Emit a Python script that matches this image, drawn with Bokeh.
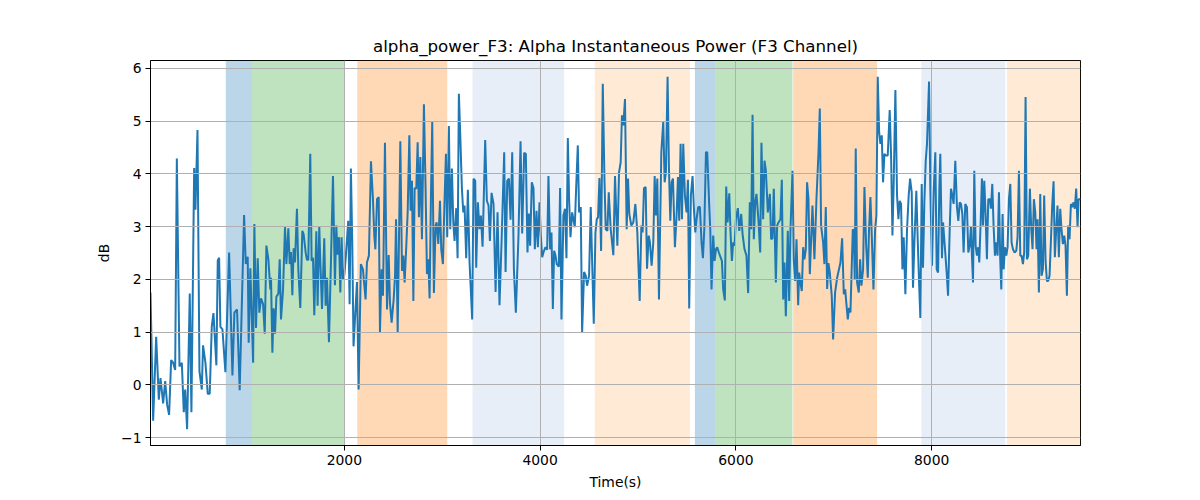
from bokeh.plotting import figure
from bokeh.models import Range1d, FixedTicker, BoxAnnotation
from bokeh.embed import file_html
from bokeh.resources import INLINE

# (time in s, power in dB), segment by segment
samples_a = [(20,1.75),(47,-0.68),(78,0.91),(105,-0.28),(122,0.13),(149,-0.35),(170,0.07),(190,-0.38),(210,-0.57),(231,0.47),(251,0.42),(272,0.28),(289,4.29),(316,0.35),(340,0.42),(360,-0.52),(374,-0.09),(394,-0.84),(421,1.73),(438,-0.52),(466,4.11),(479,3.32),(500,4.83),(520,0.26),(544,-0.09),(557,0.75),(581,0.42),(605,-0.17),(625,-0.17),(646,1.11),(663,1.36),(693,0.37),(707,2.36),(721,2.41),(734,1.10),(755,1.05),(785,0.24),(823,2.51),(857,0.18),(877,1.37),(904,1.43),(931,-0.10),(976,3.22),(993,2.29),(1013,2.43),(1023,0.80),(1040,2.21),(1068,0.42),(1081,3.05),(1098,1.08),(1115,2.40),(1132,1.37),(1149,1.64),(1170,1.53),(1187,0.97),(1204,2.64),(1224,2.38),(1244,1.81),(1251,2.03),(1265,0.61),(1278,1.45),(1292,0.97),(1306,1.67),(1326,1.73),(1340,2.38),(1353,1.24),(1374,1.81),(1394,2.99),(1408,2.29),(1428,2.97),(1442,2.29),(1455,2.52),(1469,1.70),(1482,2.59),(1496,2.32),(1516,3.34),(1530,2.19),(1550,1.46),(1571,2.92),(1584,2.86),(1605,2.51),(1618,2.37),(1632,2.37),(1652,4.38),(1666,2.35),(1680,2.41),(1693,1.32),(1714,2.91),(1727,1.50),(1744,3.00),(1754,2.38),(1772,1.44),(1795,2.78),(1809,1.50),(1823,2.03),(1843,0.81),(1863,2.32),(1884,3.96),(1904,1.89),(1918,3.02),(1931,2.47),(1945,2.80),(1959,1.75),(1972,2.80),(1986,2.00),(2000,2.08),(2013,2.38),(2040,3.11),(2054,1.53),(2067,4.10),(2081,2.70),(2094,0.73),(2129,1.95),(2146,-0.09),(2169,2.29),(2190,2.19),(2217,1.62),(2231,2.32),(2251,2.45),(2272,4.24),(2292,3.53),(2306,2.83)]
samples_b = [(2317,2.57),(2334,3.52),(2351,3.56),(2364,1.00),(2381,2.19),(2395,1.69),(2415,4.59),(2436,1.43),(2453,2.46),(2466,1.56),(2483,1.18),(2504,1.62),(2518,2.07),(2528,3.14),(2545,1.00),(2572,4.62),(2589,2.16),(2603,2.45),(2616,1.94),(2633,2.64),(2647,3.27),(2664,4.73),(2677,3.30),(2691,3.87),(2705,1.59),(2718,3.73),(2735,3.72),(2749,4.60),(2762,3.18),(2776,4.32),(2793,2.76),(2813,5.32),(2830,3.72),(2844,2.10),(2858,2.38),(2871,1.64),(2885,3.59),(2898,5.00),(2915,1.74),(2932,3.02),(2943,3.08),(2960,2.67),(2977,3.49),(2990,2.57),(3007,2.29),(3024,3.52),(3038,4.38),(3051,2.80),(3068,4.91),(3082,2.95),(3099,4.10),(3113,3.08),(3126,2.73),(3143,3.35),(3157,2.40),(3170,5.52),(3184,4.74),(3201,3.72),(3215,3.27),(3228,3.40),(3245,2.40),(3262,3.70),(3279,2.32),(3306,1.24),(3320,3.91),(3337,3.87),(3347,2.22),(3364,3.46),(3381,2.95),(3395,3.21),(3412,2.62),(3439,4.64),(3456,3.49),(3473,3.40),(3487,2.73),(3504,3.64),(3524,3.43),(3545,1.76),(3565,3.27),(3585,1.51),(3606,2.70),(3633,4.41),(3647,2.14),(3664,3.87),(3681,3.91),(3698,3.13),(3715,4.41),(3732,2.19),(3752,1.37),(3779,2.83),(3800,4.62),(3817,2.87),(3837,4.40),(3854,4.38),(3871,2.51),(3885,3.25),(3898,2.64),(3915,3.84),(3932,3.73),(3946,2.57),(3963,3.30),(3977,2.61),(3994,3.46),(4007,2.83),(4021,2.42),(4034,2.51),(4055,2.61),(4072,2.56),(4085,3.96),(4102,2.57),(4116,2.89),(4130,1.44),(4143,2.54),(4157,2.45),(4170,2.29),(4191,2.24),(4204,3.73),(4218,1.24),(4238,3.21),(4255,3.34),(4269,2.40),(4283,4.68),(4296,3.52),(4310,2.80),(4327,3.27),(4340,3.14),(4354,2.99),(4368,3.73),(4385,4.54),(4398,3.27),(4415,3.37),(4429,0.99),(4449,2.14),(4466,2.07),(4480,1.88),(4500,2.07),(4517,3.37),(4548,1.16),(4565,2.89),(4579,3.14),(4592,3.18),(4606,3.92),(4623,2.54),(4640,5.71),(4657,3.91),(4670,2.95),(4687,2.92),(4701,3.65)]
samples_c = [(4721,2.95),(4748,2.46),(4765,3.96),(4789,2.64),(4806,4.03),(4823,4.22),(4836,5.11),(4850,4.92),(4867,5.42),(4884,2.95),(4898,3.91),(4911,3.24),(4932,3.02),(4952,3.08),(4973,3.43),(4993,2.89),(5017,1.59),(5034,3.02),(5047,2.89),(5061,3.73),(5078,3.75),(5092,2.20),(5109,2.83),(5122,2.70),(5139,2.26),(5156,2.70),(5170,3.96),(5183,3.21),(5197,3.91),(5214,1.62),(5238,4.41),(5258,4.99),(5272,3.84),(5285,4.03),(5302,5.84),(5316,4.10),(5330,3.11),(5343,3.84),(5357,3.91),(5377,2.61),(5394,3.21),(5408,3.94),(5421,3.11),(5435,4.57),(5449,3.14),(5462,4.57),(5479,3.59),(5496,3.27),(5510,3.89),(5523,1.45),(5540,3.59),(5557,3.96),(5571,3.34),(5585,2.89),(5598,3.14),(5615,3.37),(5632,3.37),(5649,2.70),(5663,2.40),(5677,2.95),(5694,4.41),(5707,4.41),(5728,3.37),(5738,2.95),(5751,1.81),(5768,2.83),(5782,2.35),(5796,2.57),(5809,2.61),(5826,2.51),(5843,2.42),(5857,2.35),(5870,1.81),(5887,1.60),(5901,3.76),(5915,3.08),(5932,3.63),(5945,2.89),(5959,2.35),(5972,2.70),(5986,2.64),(6000,3.14),(6020,3.35),(6034,2.92),(6054,3.24),(6068,2.86),(6088,2.57),(6108,2.45),(6125,1.74),(6142,3.46),(6156,2.95),(6170,5.12),(6183,2.76),(6197,3.46),(6210,3.62),(6231,3.11),(6248,2.51),(6261,4.59),(6278,3.14),(6292,4.25),(6306,4.06),(6326,3.27),(6347,3.62),(6360,2.76),(6374,2.78),(6387,3.72),(6408,1.94),(6421,3.02),(6435,3.08),(6455,3.14),(6469,3.89),(6483,1.62),(6496,2.32),(6510,1.30),(6530,2.92),(6544,1.59),(6557,2.92),(6578,4.06),(6591,2.38),(6605,1.97),(6619,2.76),(6636,1.51),(6646,2.13),(6659,1.94),(6673,1.78),(6687,2.61),(6700,2.38),(6714,2.57),(6727,3.84),(6741,3.53),(6755,2.10),(6782,3.40),(6802,2.38),(6823,3.53),(6843,4.38),(6857,5.24),(6870,3.02),(6891,2.70),(6904,2.29),(6918,3.37),(6932,1.82),(6945,2.31),(6959,2.13),(6979,1.69),(6993,0.86),(7013,1.75),(7034,2.03)]
samples_d = [(7068,2.32),(7085,2.78),(7102,1.72),(7116,1.81),(7129,1.53),(7143,1.24),(7156,1.46),(7170,1.37),(7194,2.95),(7204,2.92),(7214,2.00),(7224,4.48),(7238,1.94),(7255,1.75),(7269,2.38),(7282,1.88),(7299,2.19),(7313,3.75),(7330,2.67),(7347,2.03),(7360,2.95),(7374,3.56),(7388,2.83),(7405,1.81),(7422,2.95),(7435,3.21),(7449,5.84),(7463,4.79),(7476,4.57),(7490,4.73),(7503,3.84),(7517,4.38),(7531,4.35),(7551,4.35),(7571,5.21),(7585,4.35),(7599,2.83),(7612,3.84),(7629,5.59),(7646,3.59),(7660,3.14),(7673,3.49),(7687,3.43),(7701,2.19),(7714,2.80),(7731,1.72),(7748,2.95),(7765,3.59),(7779,3.91),(7796,3.65),(7809,1.84),(7823,2.70),(7843,3.68),(7857,2.76),(7871,1.94),(7884,1.27),(7898,3.81),(7911,2.22),(7925,3.46),(7939,4.25),(7952,4.57),(7973,5.75),(7986,3.72),(8003,2.26),(8020,3.65),(8037,4.41),(8051,2.19),(8065,2.13),(8078,3.72),(8088,4.38),(8105,2.40),(8116,3.08),(8136,2.57),(8153,2.13),(8167,1.69),(8184,2.95),(8197,3.72),(8211,3.59),(8224,3.43),(8241,4.25),(8258,3.37),(8272,3.11),(8286,3.46),(8299,3.43),(8313,3.24),(8326,2.51),(8343,3.43),(8360,3.37),(8374,2.51),(8388,2.64),(8401,3.00),(8411,2.45),(8422,1.94),(8435,4.06),(8449,2.64),(8462,2.45),(8476,2.61),(8486,2.32),(8500,3.08),(8513,3.91),(8524,3.02),(8537,3.87),(8551,3.21),(8564,2.38),(8578,3.52),(8595,3.52),(8605,3.34),(8619,3.81),(8632,3.02),(8646,2.45),(8660,2.70),(8673,2.45),(8687,3.65),(8700,2.38),(8711,1.81),(8724,3.24),(8735,2.19),(8748,2.61),(8762,2.45),(8775,2.61),(8789,3.52),(8803,3.81),(8816,2.70),(8830,2.57),(8847,2.51),(8864,2.54),(8877,2.80),(8891,4.06),(8905,2.45),(8918,2.45),(8932,2.29),(8945,2.51),(8959,5.46),(8973,2.38),(8986,2.45),(9003,3.72),(9017,2.95),(9030,2.57),(9044,3.52),(9058,3.27),(9071,2.57),(9081,3.14),(9095,1.75),(9109,3.62),(9122,2.07),(9136,2.19),(9149,3.59),(9163,2.35),(9177,1.97),(9190,1.97),(9204,2.07),(9217,2.70),(9231,3.40),(9245,3.86),(9258,2.42),(9272,2.95),(9285,3.40),(9299,2.42),(9313,3.34),(9326,2.95),(9340,2.67),(9354,2.83),(9367,2.64),(9381,1.69),(9394,3.02),(9408,2.76),(9422,3.43),(9435,3.37),(9449,3.46),(9462,3.34),(9476,3.72),(9490,2.99),(9500,3.52),(9520,3.52)]

samples = samples_a + samples_b + samples_c + samples_d
time_s = [s[0] for s in samples]
power_db = [s[1] for s in samples]

# shaded segments (start, end, colour)
band_start = [789, 1056, 2132, 3310, 4558, 5581, 5789, 6585, 7894, 8769]
band_end = [1056, 2000, 3051, 4245, 5530, 5789, 6578, 7442, 8752, 9520]
band_color = ["#1f77b4", "#2ca02c", "#ff7f0e", "#aec7e8", "#ffbb78",
              "#1f77b4", "#2ca02c", "#ff7f0e", "#aec7e8", "#ffbb78"]

x_ticks = [2000, 4000, 6000, 8000]
y_ticks = [-1, 0, 1, 2, 3, 4, 5, 6]

FONT = "DejaVu Sans"

p = figure(width=1200, height=500, output_backend="svg", toolbar_location=None,
           x_range=Range1d(20, 9520), y_range=Range1d(-1.15, 6.15),
           title="alpha_power_F3: Alpha Instantaneous Power (F3 Channel)",
           min_border_left=150, min_border_right=120, min_border_top=60,
           min_border_bottom=55)

p.background_fill_color = "white"
p.border_fill_color = "white"
p.outline_line_color = "black"
p.outline_line_width = 1
p.outline_line_alpha = 1

p.title.align = "center"
p.title.text_font = FONT
p.title.text_font_size = "16.7px"
p.title.text_font_style = "normal"
p.title.text_color = "black"

for s, e, c in zip(band_start, band_end, band_color):
    p.add_layout(BoxAnnotation(left=s, right=e, fill_color=c, fill_alpha=0.3,
                               line_color=None, level="underlay"))

p.grid.level = "glyph"
p.grid.grid_line_color = "#b0b0b0"
p.grid.grid_line_width = 1
p.xaxis.ticker = FixedTicker(ticks=x_ticks)
p.yaxis.ticker = FixedTicker(ticks=y_ticks)
p.yaxis.major_label_overrides = {t: str(t).replace("-", "\u2212") for t in y_ticks}

p.line(time_s, power_db, line_color="#1f77b4", line_width=2)

for ax in (p.xaxis, p.yaxis):
    ax.minor_tick_line_color = None
    ax.major_tick_in = 0
    ax.major_tick_out = 5
    ax.major_tick_line_color = "black"
    ax.axis_line_color = "black"
    ax.major_label_text_font = FONT
    ax.major_label_text_font_size = "13.9px"
    ax.major_label_text_color = "black"
    ax.major_label_standoff = 4
    ax.axis_label_text_font = FONT
    ax.axis_label_text_font_size = "13.9px"
    ax.axis_label_text_font_style = "normal"
    ax.axis_label_text_color = "black"
    ax.axis_label_standoff = 6

p.xaxis.axis_label = "Time(s)"
p.yaxis.axis_label = "dB"

open("out.html", "w").write(file_html(p, INLINE))
